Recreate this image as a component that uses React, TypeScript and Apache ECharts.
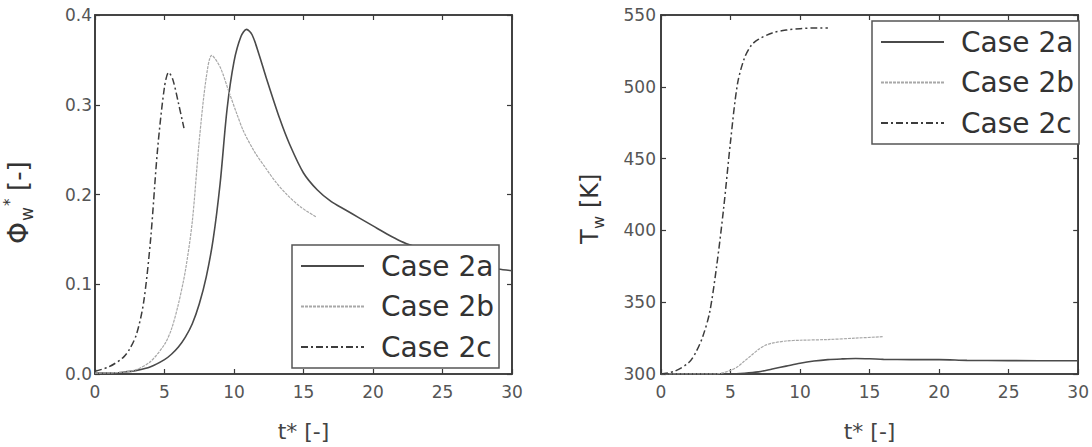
import React, { useEffect, useRef } from "react";
import * as echarts from "echarts";

// ---- Left panel: Phi_w* vs t* ----
const phiT2a = [0, 1, 2, 3, 4, 5, 5.5, 6, 6.5, 7, 7.5, 8, 8.5, 9, 9.5, 10, 10.5, 10.9, 11.3, 11.8, 12.3, 13.3, 14, 15, 16, 17, 18, 19, 20, 21, 22, 23, 24, 25, 26, 27, 28, 29, 30];
const phiV2a = [0.001, 0.001, 0.002, 0.004, 0.008, 0.016, 0.022, 0.03, 0.041, 0.056, 0.078, 0.108, 0.15, 0.212, 0.295, 0.348, 0.376, 0.384, 0.378, 0.356, 0.331, 0.284, 0.256, 0.224, 0.205, 0.192, 0.183, 0.174, 0.165, 0.156, 0.148, 0.142, 0.137, 0.132, 0.127, 0.123, 0.12, 0.117, 0.115];

const phiT2b = [0, 2, 3, 4, 5, 5.5, 6, 6.5, 7, 7.5, 8, 8.4, 9, 9.6, 10.2, 10.7, 11.5, 12.3, 13, 13.8, 14.8, 15.9];
const phiV2b = [0.001, 0.002, 0.005, 0.014, 0.033, 0.05, 0.078, 0.115, 0.17, 0.26, 0.33, 0.355, 0.342, 0.316, 0.29, 0.27, 0.247, 0.229, 0.214, 0.2, 0.186, 0.175];

const phiT2c = [0, 1, 2, 2.5, 3, 3.5, 4, 4.5, 5, 5.3, 5.6, 6, 6.4];
const phiV2c = [0.003, 0.008, 0.018, 0.028, 0.045, 0.08, 0.15, 0.25, 0.32, 0.336, 0.328, 0.302, 0.274];

// ---- Right panel: T_w vs t* ----
const tempT2a = [0, 5, 6, 7, 8, 9, 10, 11, 12, 13, 14, 15, 16, 18, 20, 22, 25, 30];
const tempV2a = [300, 300, 300.5, 301.5, 303.5, 305.5, 307.5, 309, 310, 310.5, 310.8, 310.6, 310.2, 310, 310, 309.5, 309.3, 309.2];

const tempT2b = [0, 4, 4.5, 5, 5.5, 6, 6.5, 7, 7.5, 8, 9, 10, 12, 14, 16];
const tempV2b = [300, 300, 301, 302.5, 305, 309, 313, 317, 320, 321.5, 323, 323.5, 324, 325, 326];

const tempT2c = [0, 1, 2, 2.5, 3, 3.5, 4, 4.5, 5, 5.5, 6, 6.5, 7, 8, 9, 10, 11, 12];
const tempV2c = [300, 302, 308, 315, 326, 343, 375, 415, 462, 502, 520, 529, 533, 537.5, 539.5, 540.5, 541, 541];

const caseNames = ["Case 2a", "Case 2b", "Case 2c"];
const xTicks = [0, 30, 5];
const phiTicks = [0, 0.4, 0.1];
const tempTicks = [300, 550, 50];

const FONT = "DejaVu Sans";
const AXIS_COLOR = "#3a3a3a";
const LABEL_COLOR = "#555";

const zip = (t: number[], v: number[]) => t.map((x, i) => [x, v[i]]);

const styles = [
  { color: "#4a4a4a", width: 1.6, type: "solid" as any },
  { color: "#a8a8a8", width: 1.2, type: [3, 1] as any },
  { color: "#3c3c3c", width: 1.5, type: [7, 3, 2, 3] as any },
];

export default function App() {
  const ref = useRef<HTMLDivElement>(null);

  useEffect(() => {
    if (!ref.current) return;
    const chart = echarts.init(ref.current, undefined, { renderer: "svg" });

    const grids = [
      { left: 95, top: 15, width: 417, height: 361, show: true, borderColor: AXIS_COLOR, borderWidth: 1.6, backgroundColor: "transparent" },
      { left: 661, top: 15, width: 423, height: 361, show: true, borderColor: AXIS_COLOR, borderWidth: 1.6, backgroundColor: "transparent" },
    ];

    const mkLine = () => ({ show: true, onZero: false, lineStyle: { color: AXIS_COLOR, width: 1.6 } });
    const mkTick = () => ({ show: true, inside: true, length: 5, lineStyle: { color: AXIS_COLOR, width: 1.2 } });
    const labelStyle = { fontSize: 17, color: LABEL_COLOR, fontFamily: FONT };

    const xAxes: any[] = [];
    const yAxes: any[] = [];
    [0, 1].forEach((g) => {
      xAxes.push({
        type: "value", gridIndex: g, position: "bottom",
        min: xTicks[0], max: xTicks[1], interval: xTicks[2],
        axisLine: mkLine(), axisTick: mkTick(), splitLine: { show: false },
        axisLabel: { ...labelStyle, margin: 9 },
        name: "t* [-]", nameLocation: "middle", nameGap: 46,
        nameTextStyle: { fontSize: 22, color: "#444", fontFamily: FONT },
      });
      xAxes.push({
        type: "value", gridIndex: g, position: "top",
        min: xTicks[0], max: xTicks[1], interval: xTicks[2],
        axisLine: mkLine(), axisTick: mkTick(), splitLine: { show: false }, axisLabel: { show: false },
      });
    });
    const yt = [phiTicks, tempTicks];
    [0, 1].forEach((g) => {
      yAxes.push({
        type: "value", gridIndex: g, position: "left",
        min: yt[g][0], max: yt[g][1], interval: yt[g][2],
        axisLine: mkLine(), axisTick: mkTick(), splitLine: { show: false },
        axisLabel: {
          ...labelStyle, margin: g === 0 ? 3 : 5,
          formatter: (v: number) => (g === 0 ? v.toFixed(1) : String(v)),
        },
      });
      yAxes.push({
        type: "value", gridIndex: g, position: "right",
        min: yt[g][0], max: yt[g][1], interval: yt[g][2],
        axisLine: mkLine(), axisTick: mkTick(), splitLine: { show: false }, axisLabel: { show: false },
      });
    });

    const mk = (name: string, idx: number, data: number[][], g: number) => ({
      type: "line", name, data,
      xAxisIndex: g * 2, yAxisIndex: g * 2,
      symbol: "none", smooth: 0.3,
      lineStyle: { ...styles[idx] },
      itemStyle: { color: styles[idx].color },
      z: 2,
    });

    const series = [
      mk(caseNames[0], 0, zip(phiT2a, phiV2a), 0),
      mk(caseNames[1], 1, zip(phiT2b, phiV2b), 0),
      mk(caseNames[2], 2, zip(phiT2c, phiV2c), 0),
      mk(caseNames[0], 0, zip(tempT2a, tempV2a), 1),
      mk(caseNames[1], 1, zip(tempT2b, tempV2b), 1),
      mk(caseNames[2], 2, zip(tempT2c, tempV2c), 1),
    ];

    const legendBase = {
      orient: "vertical", data: caseNames, selectedMode: false,
      padding: [7, 5, 7, 8], itemGap: 12.5, itemWidth: 63, itemHeight: 14,
      borderColor: "#555", borderWidth: 1.5, backgroundColor: "#fff",
      itemStyle: { opacity: 0, borderWidth: 0 },
      textStyle: { fontSize: 28, color: "#333", fontFamily: FONT, padding: [0, 0, 0, 12] },
      z: 10,
    };

    const txt = (text: string, x: number, y: number, fontSize: number) => ({
      type: "text", x, y,
      style: { text, fontSize, fontFamily: FONT, fill: "#333", align: "left", verticalAlign: "middle" },
    });

    chart.setOption({
      animation: false,
      backgroundColor: "#fff",
      grid: grids,
      xAxis: xAxes,
      yAxis: yAxes,
      legend: [
        { ...legendBase, left: 292, top: 245 },
        { ...legendBase, left: 872, top: 21 },
      ],
      series,
      graphic: [
        {
          type: "group", x: 18, y: 244, rotation: Math.PI / 2,
          children: [
            txt("Φ", 0, 0, 28),
            txt("w", 23, 9, 17),
            txt("*", 38, -8, 15),
            txt("[-]", 53, 0, 26),
          ],
        },
        {
          type: "group", x: 590, y: 244, rotation: Math.PI / 2,
          children: [
            txt("T", 0, 0, 24),
            txt("w", 15, 8, 16),
            txt("[K]", 36, 0, 24),
          ],
        },
      ],
    });

    return () => chart.dispose();
  }, []);

  return (
    <div
      ref={ref}
      style={{ position: "fixed", left: 0, top: 0, width: 1092, height: 447, background: "#fff" }}
    />
  );
}
